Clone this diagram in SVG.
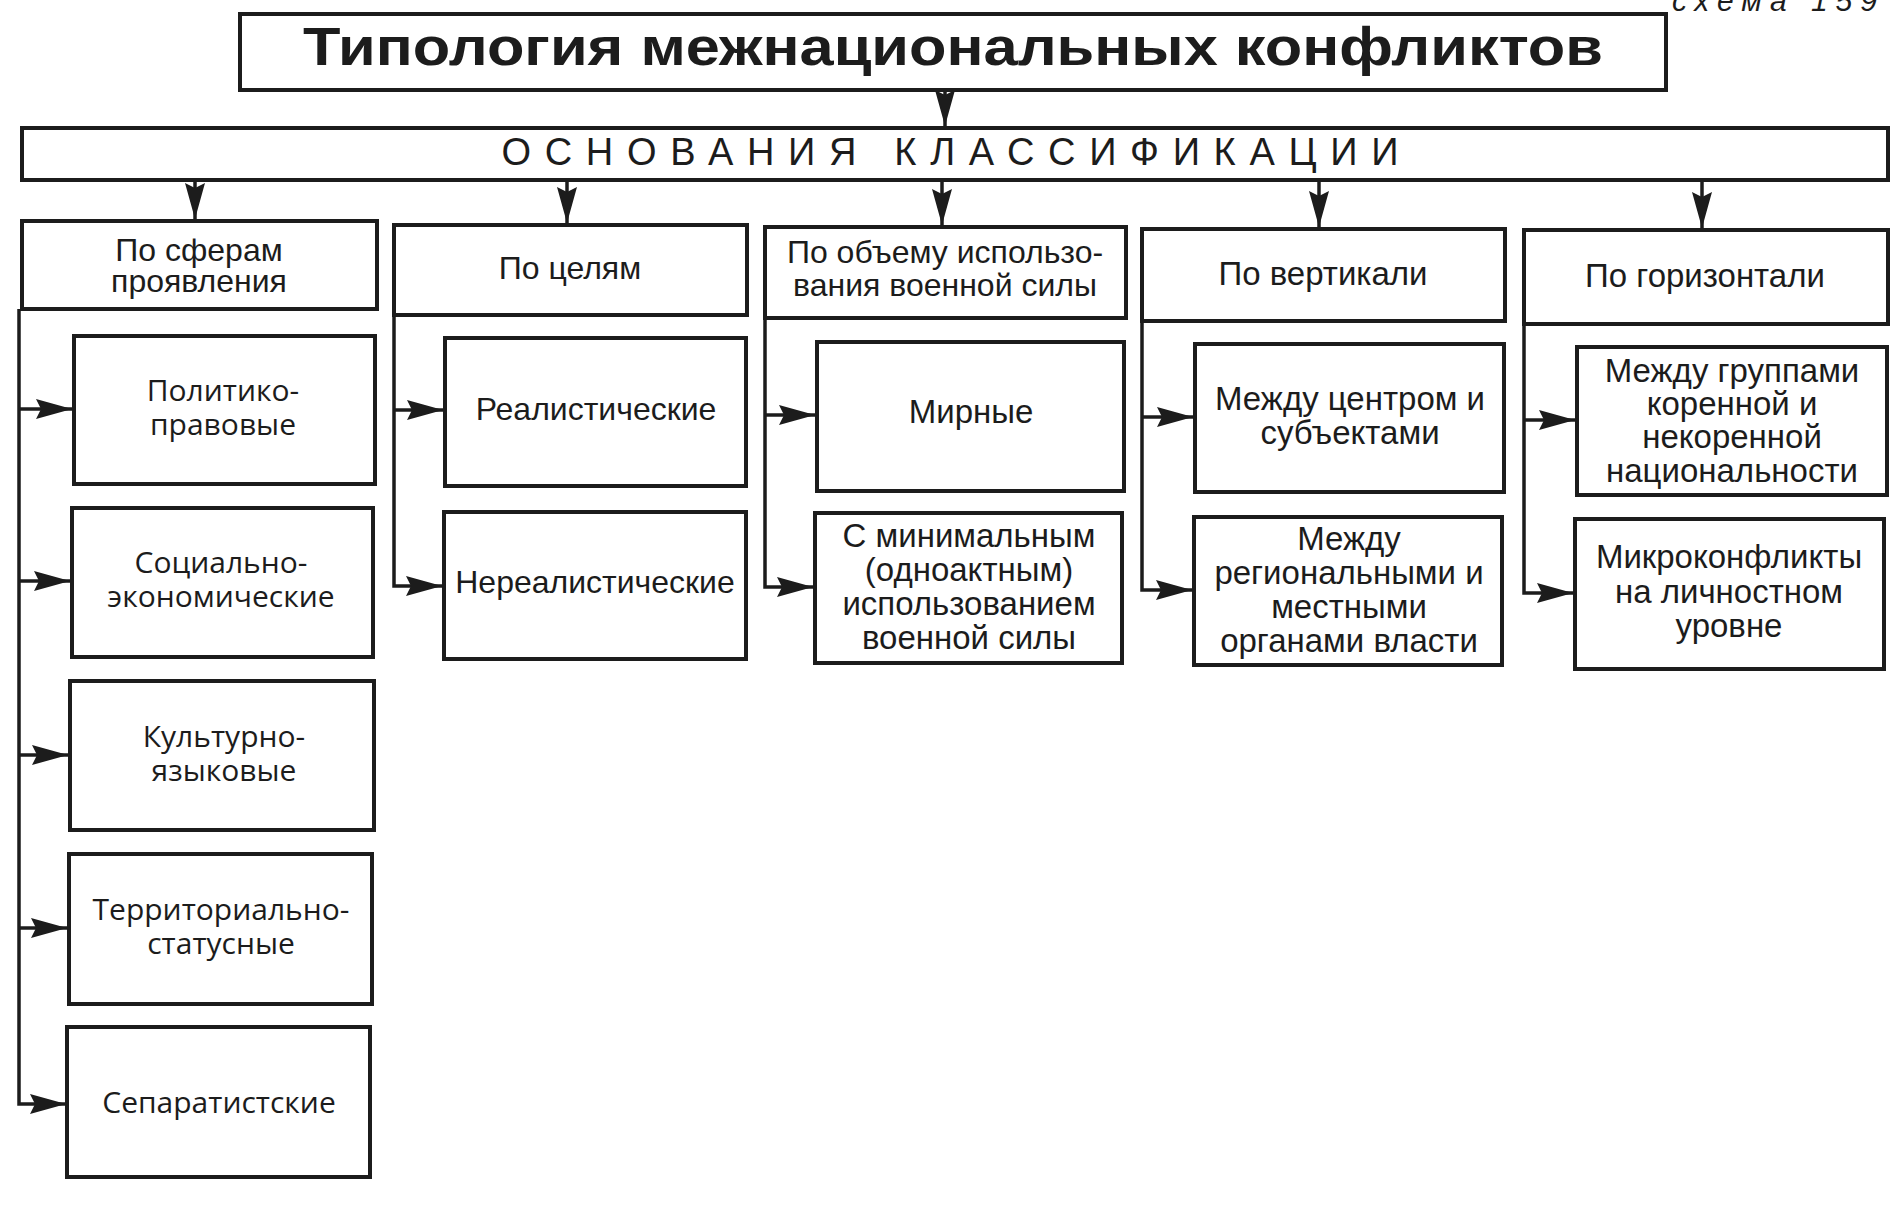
<svg xmlns="http://www.w3.org/2000/svg" width="1901" height="1205" viewBox="0 0 1901 1205">
<style>
.bg{fill:#ffffff}
.box{fill:#ffffff;stroke:#1c1c1c;stroke-width:4}
.con{fill:none;stroke:#1c1c1c;stroke-width:3.5}
.t{font-family:"Liberation Sans",Arial,sans-serif;font-size:32px;fill:#1c1c1c;text-anchor:middle}
.c{font-size:33px}
.h{font-family:"Liberation Sans",Arial,sans-serif;font-weight:bold;font-size:54px;fill:#1c1c1c;text-anchor:middle}
.k{font-family:"Liberation Sans",Arial,sans-serif;font-size:38px;fill:#1c1c1c;text-anchor:middle}
.g{font-family:"Open Sans","DejaVu Sans",sans-serif;font-size:30px;fill:#1c1c1c;text-anchor:middle}
.s{font-family:"Liberation Sans",Arial,sans-serif;font-style:italic;font-size:30px;fill:#1c1c1c;letter-spacing:8px}
</style>
<defs>
<marker id="ah" markerUnits="userSpaceOnUse" markerWidth="36" markerHeight="20" refX="36" refY="10" orient="auto">
<path d="M0,0 L36,10 L0,20 L5,10 Z" fill="#1c1c1c"/>
</marker>
</defs>
<rect class="bg" x="0" y="0" width="1901" height="1205"/>
<text class="s" x="1672" y="11">схема 159</text>

<g id="connectors">
<path class="con" d="M945,90 V126" marker-end="url(#ah)"/>
<path class="con" d="M195,180 V219" marker-end="url(#ah)"/>
<path class="con" d="M567,180 V223" marker-end="url(#ah)"/>
<path class="con" d="M942,180 V225" marker-end="url(#ah)"/>
<path class="con" d="M1319,180 V227" marker-end="url(#ah)"/>
<path class="con" d="M1702,180 V228" marker-end="url(#ah)"/>

<path class="con" d="M19,309 V1104 H66" marker-end="url(#ah)"/>
<path class="con" d="M19,409 H72" marker-end="url(#ah)"/>
<path class="con" d="M19,581 H70" marker-end="url(#ah)"/>
<path class="con" d="M19,755 H68" marker-end="url(#ah)"/>
<path class="con" d="M19,928 H67" marker-end="url(#ah)"/>

<path class="con" d="M394,315 V586 H442" marker-end="url(#ah)"/>
<path class="con" d="M394,410 H443" marker-end="url(#ah)"/>

<path class="con" d="M765,318 V587 H813" marker-end="url(#ah)"/>
<path class="con" d="M765,415 H815" marker-end="url(#ah)"/>

<path class="con" d="M1142,321 V590 H1192" marker-end="url(#ah)"/>
<path class="con" d="M1142,417 H1193" marker-end="url(#ah)"/>

<path class="con" d="M1524,324 V593 H1573" marker-end="url(#ah)"/>
<path class="con" d="M1524,420 H1575" marker-end="url(#ah)"/>
</g>

<g id="title">
<rect class="box" x="240" y="14" width="1426" height="76"/>
<text class="h" x="953" y="65" textLength="1300" lengthAdjust="spacingAndGlyphs">Типология межнациональных конфликтов</text>
</g>
<g id="osnovaniya">
<rect class="box" x="22" y="128" width="1866" height="52"/>
<text class="k" x="950" y="165" textLength="897">ОСНОВАНИЯ КЛАССИФИКАЦИИ</text>
</g>

<g id="cat-sfery">
<rect class="box" x="22" y="221" width="355" height="88"/>
<text class="t" x="199" y="261">По сферам<tspan x="199" dy="31">проявления</tspan></text>
</g>
<g id="cat-celi">
<rect class="box" x="394" y="225" width="353" height="90"/>
<text class="t" x="570" y="279">По целям</text>
</g>
<g id="cat-obem">
<rect class="box" x="765" y="227" width="361" height="91"/>
<text class="t" x="945" y="263">По объему использо-<tspan x="945" dy="33">вания военной силы</tspan></text>
</g>
<g id="cat-vertikal">
<rect class="box" x="1142" y="229" width="363" height="92"/>
<text class="t c" x="1323" y="285">По вертикали</text>
</g>
<g id="cat-gorizontal">
<rect class="box" x="1524" y="230" width="364" height="94"/>
<text class="t c" x="1705" y="287">По горизонтали</text>
</g>

<g id="politiko">
<rect class="box" x="74" y="336" width="301" height="148"/>
<text class="g" x="223" y="401">Политико-<tspan x="223" dy="34">правовые</tspan></text>
</g>
<g id="socialno">
<rect class="box" x="72" y="508" width="301" height="149"/>
<text class="g" x="221" y="573">Социально-<tspan x="221" dy="34">экономические</tspan></text>
</g>
<g id="kulturno">
<rect class="box" x="70" y="681" width="304" height="149"/>
<text class="g" x="224" y="747">Культурно-<tspan x="224" dy="34">языковые</tspan></text>
</g>
<g id="territorialno">
<rect class="box" x="69" y="854" width="303" height="150"/>
<text class="g" x="221" y="920">Территориально-<tspan x="221" dy="34">статусные</tspan></text>
</g>
<g id="separatist">
<rect class="box" x="67" y="1027" width="303" height="150"/>
<text class="g" x="219" y="1113">Сепаратистские</text>
</g>

<g id="realist">
<rect class="box" x="445" y="338" width="301" height="148"/>
<text class="t" x="596" y="420">Реалистические</text>
</g>
<g id="nerealist">
<rect class="box" x="444" y="512" width="302" height="147"/>
<text class="t" x="595" y="593">Нереалистические</text>
</g>

<g id="mirnye">
<rect class="box" x="817" y="342" width="307" height="149"/>
<text class="t c" x="971" y="423">Мирные</text>
</g>
<g id="minimalnym">
<rect class="box" x="815" y="513" width="307" height="150"/>
<text class="t c" x="969" y="547">С минимальным<tspan x="969" dy="34">(одноактным)</tspan><tspan x="969" dy="34">использованием</tspan><tspan x="969" dy="34">военной силы</tspan></text>
</g>

<g id="centr">
<rect class="box" x="1195" y="344" width="309" height="148"/>
<text class="t c" x="1350" y="410">Между центром и<tspan x="1350" dy="34">субъектами</tspan></text>
</g>
<g id="regionalnye">
<rect class="box" x="1194" y="517" width="308" height="148"/>
<text class="t c" x="1349" y="550">Между<tspan x="1349" dy="34">региональными и</tspan><tspan x="1349" dy="34">местными</tspan><tspan x="1349" dy="34">органами власти</tspan></text>
</g>

<g id="korennoy">
<rect class="box" x="1577" y="347" width="310" height="148"/>
<text class="t c" x="1732" y="382">Между группами<tspan x="1732" dy="33">коренной и</tspan><tspan x="1732" dy="33">некоренной</tspan><tspan x="1732" dy="34">национальности</tspan></text>
</g>
<g id="mikro">
<rect class="box" x="1575" y="519" width="309" height="150"/>
<text class="t c" x="1729" y="568">Микроконфликты<tspan x="1729" dy="35">на личностном</tspan><tspan x="1729" dy="34">уровне</tspan></text>
</g>
</svg>
